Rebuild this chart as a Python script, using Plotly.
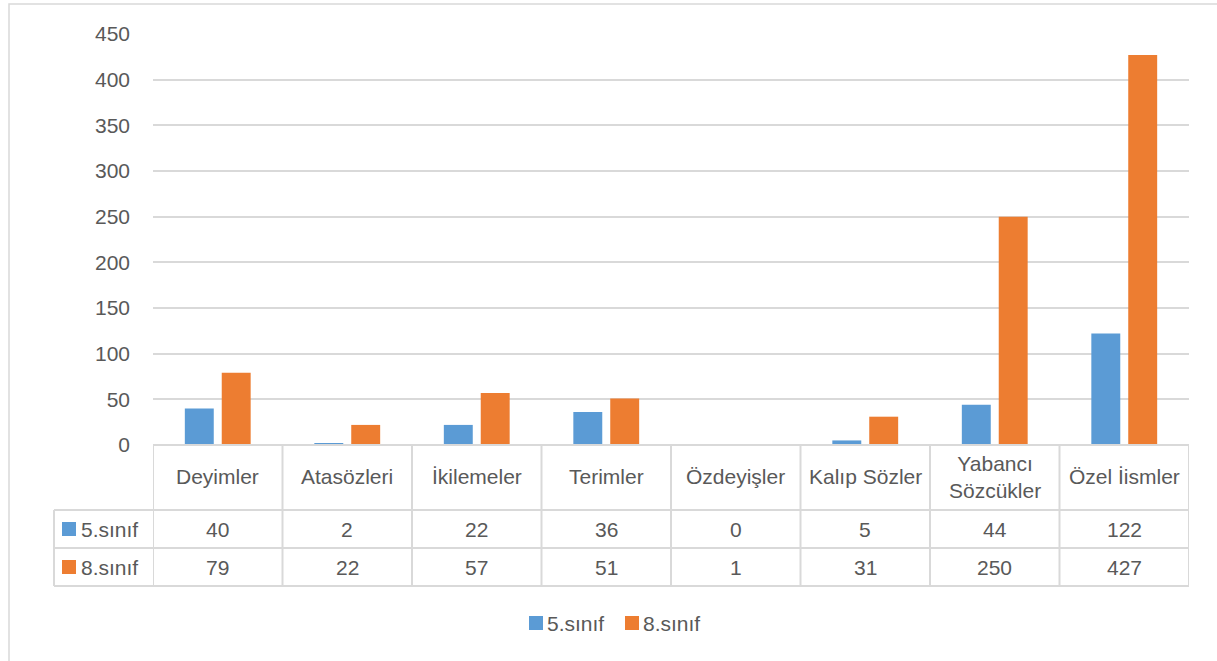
import plotly.graph_objects as go

categories = ["Deyimler", "Atasözleri", "İkilemeler", "Terimler", "Özdeyişler",
              "Kalıp Sözler", "Yabancı<br>Sözcükler", "Özel İismler"]
series_names = ["5.sınıf", "8.sınıf"]
values_5 = [40, 2, 22, 36, 0, 5, 44, 122]
values_8 = [79, 22, 57, 51, 1, 31, 250, 427]
colors = ["#5B9BD5", "#ED7D31"]
y_ticks = [0, 50, 100, 150, 200, 250, 300, 350, 400, 450]

W, H = 1217, 661
L, R, T, B = 153, 1189, 34, 445  # plot area in pixels
PW, PH = R - L, B - T

def px(x):
    return (x - L) / PW

def py(y):
    return (B - y) / PH

FONT = "Liberation Sans"
TXT = "#595959"
GRID = "#d9d9d9"
FS = 21

fig = go.Figure()
for name, vals, col in zip(series_names, [values_5, values_8], colors):
    fig.add_trace(go.Bar(x=categories, y=vals, name=name, marker_color=col,
                         marker_line_width=0, showlegend=False))

shapes = []
annotations = []
n = len(categories)
row_y = [(510, 548), (548, 586)]
# table horizontal lines
shapes.append(dict(type="line", xref="paper", yref="paper", x0=0, x1=1, y0=py(445), y1=py(445),
                   line=dict(color=GRID, width=2)))
for yy in [510, 548, 586]:
    shapes.append(dict(type="line", xref="paper", yref="paper", x0=px(54), x1=1, y0=py(yy), y1=py(yy),
                       line=dict(color=GRID, width=2)))
# vertical lines
for k in range(n + 1):
    shapes.append(dict(type="line", xref="x", yref="paper", x0=k - 0.5, x1=k - 0.5,
                       y0=py(445), y1=py(586), line=dict(color=GRID, width=2)))
shapes.append(dict(type="line", xref="paper", yref="paper", x0=px(54), x1=px(54),
                   y0=py(510), y1=py(586), line=dict(color=GRID, width=2)))
# outer chart border
shapes.append(dict(type="rect", xref="paper", yref="paper", x0=px(9), x1=px(1240),
                   y0=py(4), y1=py(690), line=dict(color=GRID, width=1.5)))

# header labels
for i, c in enumerate(categories):
    annotations.append(dict(x=i, y=py(477), xref="x", yref="paper", text=c, showarrow=False,
                            font=dict(family=FONT, size=FS, color=TXT), align="center",
                            yanchor="middle"))
# rows
for r, (name, vals, col) in enumerate(zip(series_names, [values_5, values_8], colors)):
    y0, y1 = row_y[r]
    yc = (y0 + y1) / 2
    shapes.append(dict(type="rect", xref="paper", yref="paper", x0=px(62), x1=px(76),
                       y0=py(yc - 7), y1=py(yc + 7), fillcolor=col, line=dict(width=0)))
    annotations.append(dict(x=px(79), y=py(yc), xref="paper", yref="paper", text=name,
                            showarrow=False, xanchor="left", yanchor="middle",
                            font=dict(family=FONT, size=FS, color=TXT)))
    for i, v in enumerate(vals):
        annotations.append(dict(x=i, y=py(yc), xref="x", yref="paper", text=str(v),
                                showarrow=False, yanchor="middle",
                                font=dict(family=FONT, size=FS, color=TXT)))

# bottom legend (drawn manually)
leg_x = [529, 625]
leg_yc = 623
for name, col, lx in zip(series_names, colors, leg_x):
    shapes.append(dict(type="rect", xref="paper", yref="paper", x0=px(lx), x1=px(lx + 14),
                       y0=py(leg_yc - 7), y1=py(leg_yc + 7), fillcolor=col, line=dict(width=0)))
    annotations.append(dict(x=px(lx + 16), y=py(leg_yc), xref="paper", yref="paper", text=name,
                            showarrow=False, xanchor="left", yanchor="middle",
                            font=dict(family=FONT, size=FS, color=TXT)))

fig.update_layout(
    width=W, height=H,
    margin=dict(l=L, r=W - R, t=T, b=H - B),
    paper_bgcolor="white", plot_bgcolor="white",
    barmode="group", bargap=0.43, bargroupgap=0.216,
    font=dict(family=FONT, size=FS, color=TXT),
    xaxis=dict(showticklabels=False, showgrid=False, zeroline=False, showline=False,
               range=[-0.5, n - 0.5]),
    yaxis=dict(range=[0, 450], tickvals=y_ticks, showgrid=True, gridcolor=GRID, gridwidth=1.5,
               zeroline=False, showline=False, ticklabelstandoff=22,
               tickfont=dict(family=FONT, size=FS, color=TXT)),
    showlegend=False,
    shapes=shapes, annotations=annotations,
)
fig.write_html("out.html")
